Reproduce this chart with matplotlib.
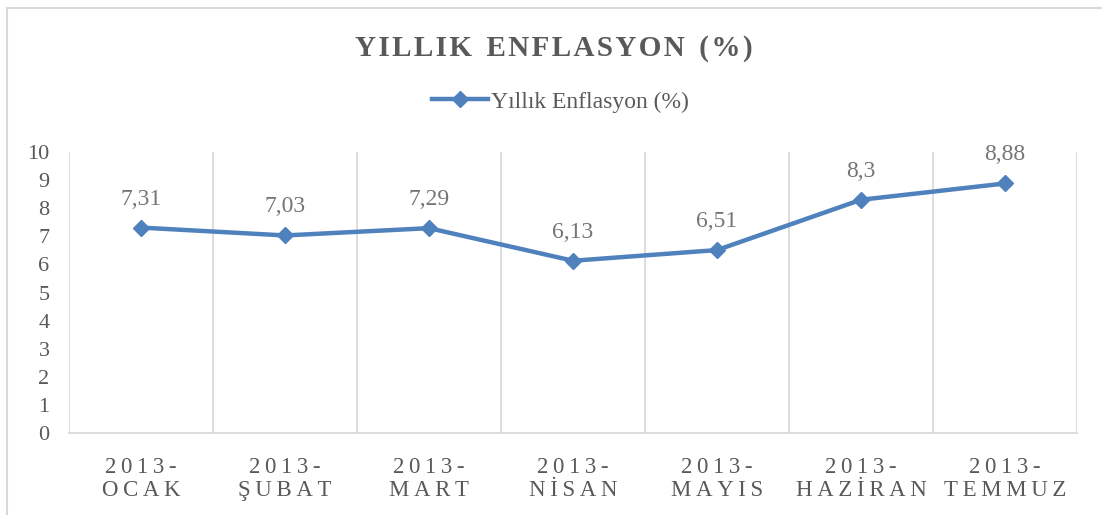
import matplotlib.pyplot as plt
from matplotlib.patches import Rectangle

months = ['OCAK', 'ŞUBAT', 'MART', 'NİSAN', 'MAYIS', 'HAZİRAN', 'TEMMUZ']
year = '2013-'
inflation = [7.31, 7.03, 7.29, 6.13, 6.51, 8.30, 8.88]
value_labels = ['7,31', '7,03', '7,29', '6,13', '6,51', '8,3', '8,88']
yticks = list(range(0, 11))

SP = '\u2009'
HS = '\u200a'


def spaced(s, sep=SP):
    return sep.join(s)


plt.rcParams['font.family'] = ['Liberation Serif', 'DejaVu Serif']

fig = plt.figure(figsize=(11.02, 5.15), dpi=100)
fig.patch.set_facecolor('white')

W, H = 1102, 515
ax = fig.add_axes([69 / W, 1 - 433 / H, (1077 - 69) / W, (433 - 152) / H])

blue = '#4F81BD'
grid_col = '#D9D9D9'
txt_col = '#595959'

x = list(range(len(months)))
line, = ax.plot(x, inflation, color=blue, lw=3.2, marker='D', ms=8.5,
                solid_joinstyle='round', label='Yıllık Enflasyon (%)', zorder=3)

for xi, v, lab in zip(x, inflation, value_labels):
    ax.annotate(lab, (xi, v), xytext=(0, 13), textcoords='offset points',
                ha='center', va='bottom', fontsize=17, color='#757575')

ax.set_xlim(-0.5, len(months) - 0.5)
ax.set_ylim(0, 10)
ax.set_yticks(yticks)
ax.set_yticklabels([str(t) for t in yticks], fontsize=16, color=txt_col)
ax.set_xticks(x)
ax.set_xticklabels([spaced(year) + '\n' + spaced(m) for m in months],
                   fontsize=16.5, color=txt_col, linespacing=1.15)
ax.tick_params(axis='both', length=0)
ax.tick_params(axis='y', pad=14)
ax.tick_params(axis='x', pad=17)

for b in [i - 0.5 for i in range(len(months) + 1)]:
    ax.axvline(b, color=grid_col, lw=1.3, zorder=1)

for s in ['top', 'right', 'left']:
    ax.spines[s].set_visible(False)
ax.spines['bottom'].set_color(grid_col)
ax.spines['bottom'].set_linewidth(1.3)

title = '  '.join(spaced(w, HS) for w in ['YILLIK', 'ENFLASYON', '(%)'])
fig.text(0.5 + 3 / W, 1 - 49 / H, title,
         ha='center', va='center', fontsize=21, fontweight='bold', color=txt_col)

fig.legend(handles=[line], loc='center', bbox_to_anchor=(0.5 + 9 / W, 1 - 102 / H),
           frameon=False, fontsize=17, handlelength=2.4, handletextpad=0.1,
           labelcolor=txt_col)

fig.patches.append(Rectangle((6.5 / W, -0.1), 1.2, 1.1 - 7.5 / H,
                             transform=fig.transFigure, fill=False,
                             edgecolor=grid_col, lw=1.5))

fig.savefig('out.png', dpi=100)
